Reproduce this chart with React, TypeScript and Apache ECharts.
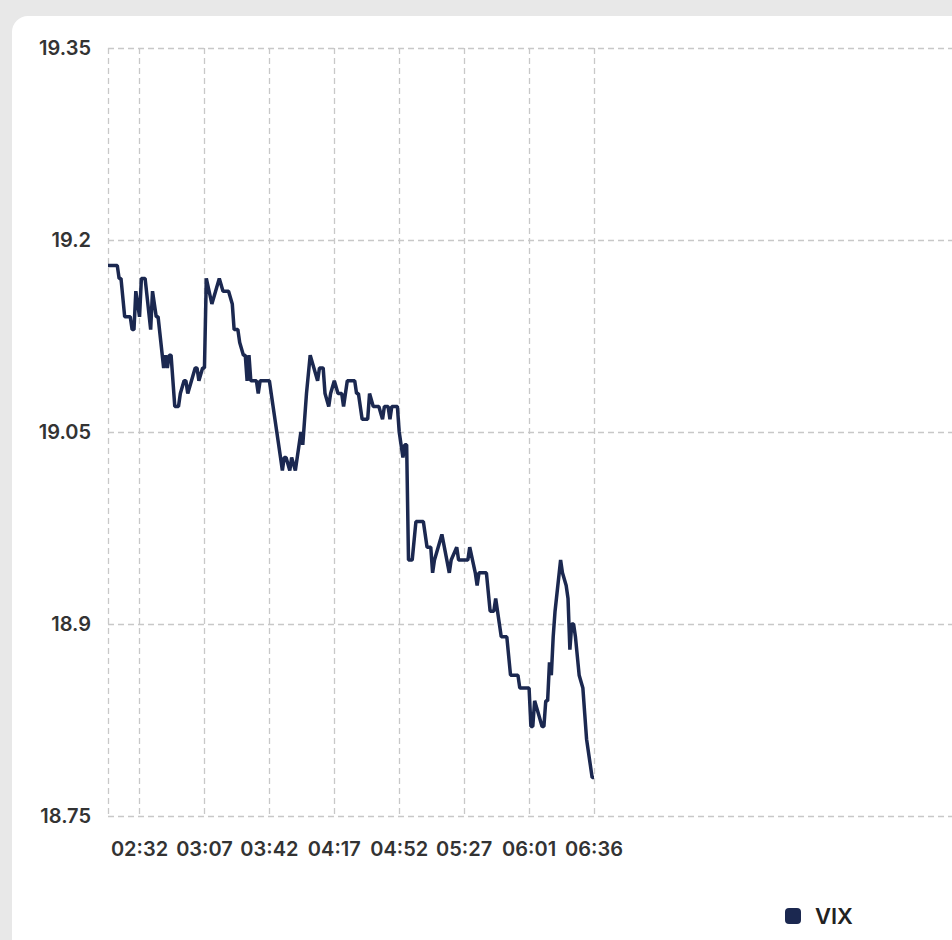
import React, { useEffect, useRef } from "react";
import * as echarts from "echarts";

// Tick labels shown on the category axis (every 35th category starting at index 17)
const tickLabels: string[] = ["02:32", "03:07", "03:42", "04:17", "04:52", "05:27", "06:01", "06:36"];
const firstTickIndex = 17;
const tickStep = 35;
const categoryCount = 456;

// Y axis range
const yMin = 18.75;
const yMax = 19.35;
const yInterval = 0.15;

// VIX series: [category index, value] corner points
const vixPoints: [number, number][] = [
  [0, 19.18], [5, 19.18], [6, 19.17], [7, 19.17], [9, 19.14], [12, 19.14], [13, 19.13], [14, 19.13],
  [15, 19.16], [17, 19.14], [18, 19.17], [20, 19.17], [23, 19.13], [24, 19.16], [26, 19.14], [27, 19.14],
  [30, 19.10], [31, 19.11], [32, 19.10], [33, 19.11], [34, 19.11], [36, 19.07], [38, 19.07], [39, 19.08],
  [41, 19.09], [42, 19.09], [43, 19.08], [45, 19.09], [47, 19.10], [48, 19.10], [49, 19.09], [51, 19.10],
  [52, 19.10], [53, 19.17], [56, 19.15], [58, 19.16], [60, 19.17], [62, 19.16], [65, 19.16], [67, 19.15],
  [68, 19.13], [70, 19.13], [71, 19.12], [73, 19.11], [74, 19.11], [75, 19.09], [76, 19.11], [77, 19.09],
  [80, 19.09], [81, 19.08], [82, 19.09], [87, 19.09], [89, 19.07], [91, 19.05], [93, 19.03], [94, 19.02],
  [95, 19.03], [96, 19.03], [98, 19.02], [99, 19.03], [101, 19.02], [104, 19.05], [105, 19.04], [107, 19.08],
  [109, 19.11], [111, 19.10], [113, 19.09], [114, 19.10], [116, 19.10], [117, 19.08], [119, 19.07], [120, 19.08],
  [122, 19.09], [124, 19.08], [126, 19.08], [127, 19.07], [129, 19.09], [133, 19.09], [134, 19.08], [135, 19.08],
  [137, 19.06], [140, 19.06], [141, 19.08], [143, 19.07], [146, 19.07], [148, 19.06], [149, 19.07], [151, 19.07],
  [152, 19.06], [153, 19.07], [156, 19.07], [157, 19.05], [158, 19.04], [159, 19.03], [160, 19.04], [161, 19.04],
  [162, 18.95], [164, 18.95], [166, 18.98], [170, 18.98], [172, 18.96], [174, 18.96], [175, 18.94], [176, 18.95],
  [180, 18.97], [184, 18.94], [185, 18.95], [188, 18.96], [189, 18.95], [194, 18.95], [195, 18.96], [198, 18.94],
  [199, 18.93], [200, 18.94], [204, 18.94], [206, 18.91], [208, 18.91], [209, 18.92], [211, 18.90], [212, 18.89],
  [215, 18.89], [217, 18.86], [221, 18.86], [222, 18.85], [227, 18.85], [228, 18.82], [229, 18.82], [230, 18.84],
  [232, 18.83], [234, 18.82], [235, 18.82], [236, 18.84], [237, 18.84], [238, 18.87], [239, 18.86], [240, 18.89],
  [241, 18.91], [244, 18.95], [245, 18.94], [247, 18.93], [248, 18.92], [249, 18.88], [250, 18.90], [251, 18.90],
  [252, 18.89], [254, 18.86], [256, 18.85], [257, 18.83], [258, 18.81], [260, 18.79], [261, 18.78], [262, 18.78],
];

const lastTickIndex = firstTickIndex + tickStep * (tickLabels.length - 1);
const isTick = (i: number) =>
  i >= firstTickIndex && i <= lastTickIndex && (i - firstTickIndex) % tickStep === 0;
const categories: string[] = Array.from({ length: categoryCount }, (_, i) =>
  isTick(i) ? tickLabels[(i - firstTickIndex) / tickStep] : String(i)
);

const FONT = "Inter, 'Noto Sans', sans-serif";
const NAVY = "#1b2850";

export default function App() {
  const ref = useRef<HTMLDivElement>(null);

  useEffect(() => {
    if (!ref.current) return;
    const chart = echarts.init(ref.current, undefined, { renderer: "svg" });
    chart.setOption({
      animation: false,
      textStyle: { fontFamily: FONT },
      grid: { left: 96, right: -20, top: 32, bottom: 124, containLabel: false },
      legend: {
        show: true,
        left: 773,
        top: 889,
        padding: 0,
        itemWidth: 16,
        itemHeight: 16,
        icon: "roundRect",
        textStyle: { fontSize: 22, fontWeight: 600, color: "#222", fontFamily: FONT, padding: [0, 0, 0, 9] },
        data: ["VIX"],
      },
      xAxis: {
        type: "category",
        data: categories,
        boundaryGap: false,
        axisLine: { show: false },
        axisTick: { show: false },
        axisLabel: {
          interval: (i: number) => isTick(i),
          margin: 23,
          fontSize: 20,
          fontWeight: 600,
          color: "#333333",
          fontFamily: FONT,
        },
        splitLine: {
          show: true,
          interval: (i: number) => i === 0 || isTick(i),
          lineStyle: { color: "#c8c8c8", width: 1.3, type: [6, 4] },
        },
      },
      yAxis: {
        type: "value",
        min: yMin,
        max: yMax,
        interval: yInterval,
        axisLine: { show: false },
        axisTick: { show: false },
        axisLabel: {
          margin: 17,
          fontSize: 20,
          fontWeight: 600,
          color: "#333333",
          fontFamily: FONT,
          formatter: (v: number) => String(Math.round(v * 100) / 100),
        },
        splitLine: {
          show: true,
          lineStyle: { color: "#c8c8c8", width: 1.3, type: [6, 4] },
        },
      },
      series: [
        {
          name: "VIX",
          type: "line",
          data: vixPoints,
          symbol: "none",
          showSymbol: false,
          lineStyle: { color: NAVY, width: 3.5 },
          itemStyle: { color: NAVY },
          clip: true,
        },
      ],
    });
    return () => chart.dispose();
  }, []);

  return (
    <div
      style={{
        position: "fixed",
        left: 0,
        top: 0,
        width: 952,
        height: 940,
        background: "#e8e8e8",
        overflow: "hidden",
      }}
    >
      <div
        style={{
          position: "absolute",
          left: 12,
          top: 16,
          width: 980,
          height: 980,
          background: "#ffffff",
          borderRadius: 16,
        }}
      >
        <div ref={ref} style={{ position: "absolute", left: 0, top: 0, width: 940, height: 924 }} />
      </div>
    </div>
  );
}
